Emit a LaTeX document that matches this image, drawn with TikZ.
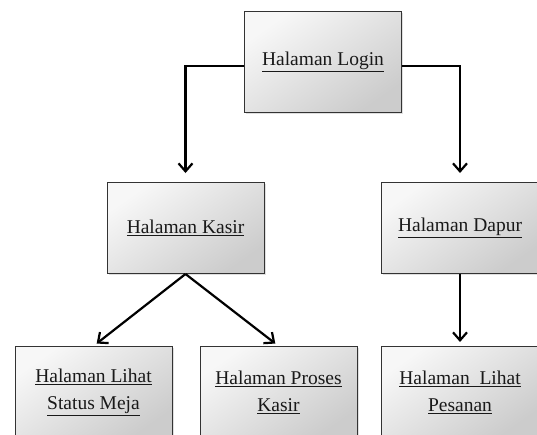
\documentclass[tikz,border=0pt]{standalone}
\usepackage{fontspec}
\setmainfont{Liberation Serif}
\usepackage{tikz}
\usetikzlibrary{arrows.meta, positioning, shadows}

\begin{document}
\begin{tikzpicture}[
  x=1pt, y=-1pt,
  page/.style={rectangle, draw=black!80, line width=1pt,
               top color=gray!6, bottom color=gray!40, shading angle=35,
               drop shadow={shadow xshift=1.5pt, shadow yshift=-1.5pt, opacity=0.25},
               minimum width=157pt, minimum height=91pt, align=center,
               text=black!90, font=\fontsize{19.5}{27}\selectfont},
  arr/.style={-{Straight Barb[length=8pt, width=14pt, line width=2.2pt]}, line width=2.2pt},
]
\useasboundingbox (0,0) rectangle (537,434);
\clip (0,0) rectangle (537,434);

% top level
\node[page, minimum height=101pt] (login) at (323,62) {\underline{Halaman Login}};

% second level
\node[page] (kasir) at (185.5,228) {\underline{Halaman Kasir}};
\node[page] (dapur) at (460,228) {\underline{Halaman Dapur}};

% third level
\node[page] (meja) at (93.5,392) {\underline{Halaman Lihat}\\\underline{Status Meja}};
\node[page] (proses) at (278.5,392) {\underline{Halaman Proses}\\\underline{Kasir}};
\node[page] (pesanan) at (460,392) {\underline{Halaman~~Lihat}\\\underline{Pesanan}};

\draw[arr, shorten >=9pt] ([yshift=-4pt]login.west) -| (kasir.north);
\draw[arr, shorten >=9pt] ([yshift=-4pt]login.east) -| (dapur.north);
\draw[arr, shorten >=4pt] (kasir.south) -- (meja.north);
\draw[arr, shorten >=4pt] (kasir.south) -- (proses.north);
\draw[arr, shorten >=4pt] (dapur.south) -- (pesanan.north);
\end{tikzpicture}
\end{document}
